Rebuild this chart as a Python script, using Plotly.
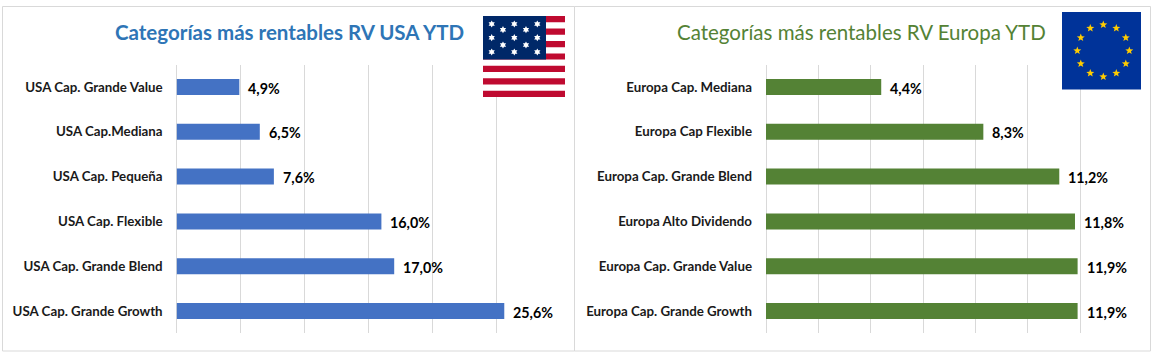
import math
import plotly.graph_objects as go

W, H = 1151, 358
FONT = "Lato, 'Open Sans', sans-serif"

usa_categories = ["USA Cap. Grande Value", "USA Cap.Mediana", "USA Cap. Pequeña",
                  "USA Cap. Flexible", "USA Cap. Grande Blend", "USA Cap. Grande Growth"]
usa_values = [4.9, 6.5, 7.6, 16.0, 17.0, 25.6]
usa_labels = ["4,9%", "6,5%", "7,6%", "16,0%", "17,0%", "25,6%"]

eur_categories = ["Europa Cap. Mediana", "Europa Cap Flexible", "Europa Cap. Grande Blend",
                  "Europa Alto Dividendo", "Europa Cap. Grande Value", "Europa Cap. Grande Growth"]
eur_values = [4.4, 8.3, 11.2, 11.8, 11.9, 11.9]
eur_labels = ["4,4%", "8,3%", "11,2%", "11,8%", "11,9%", "11,9%"]

usa_title = "Categorías más rentables RV USA YTD"
eur_title = "Categorías más rentables RV Europa YTD"


def px(x):
    return x / W


def py(y):
    return 1 - y / H


def rect(x0, y0, x1, y1, fill=None, line=None, layer="above"):
    return dict(type="rect", xref="paper", yref="paper", x0=px(x0), x1=px(x1), y0=py(y0), y1=py(y1),
                fillcolor=fill or "rgba(0,0,0,0)",
                line=dict(color=line or "rgba(0,0,0,0)", width=1 if line else 0), layer=layer)


def star(cx, cy, r, color, points=5, inner=0.42):
    pts = []
    for i in range(points * 2):
        rad = r if i % 2 == 0 else r * inner
        a = -math.pi / 2 + i * math.pi / points
        pts.append((px(cx + rad * math.cos(a)), py(cy + rad * math.sin(a))))
    path = "M" + " L".join(f"{a:.5f},{b:.5f}" for a, b in pts) + " Z"
    return dict(type="path", xref="paper", yref="paper", path=path, fillcolor=color,
                line=dict(width=0), layer="above")


shapes = [rect(2.5, 6.5, 574.5, 351, "white", "#D9D9D9", "below"),
          rect(574.5, 6.5, 1150.5, 351, "white", "#D9D9D9", "below")]

# US flag
fx0, fy0, fx1, fy1 = 483, 16, 565, 97
sh = (fy1 - fy0) / 13
shapes.append(rect(fx0, fy0, fx1, fy1, "white"))
for i in range(0, 13, 2):
    shapes.append(rect(fx0, fy0 + i * sh, fx1, fy0 + (i + 1) * sh, "#BF0A30"))
shapes.append(rect(fx0, fy0, 546, 59.5, "#002868"))
for yy, xs in [(24, (491.7, 514.3, 537.3)), (29.7, (503, 526)), (37.7, (491.7, 514.3, 537.3)),
               (45, (503, 526)), (52, (491.7, 514.3, 537.3))]:
    for xx in xs:
        shapes.append(star(xx, yy, 3.6, "white", points=6, inner=0.55))

# EU flag
shapes.append(rect(1062, 12, 1141, 89.5, "#003399"))
for k in range(12):
    a = k * math.pi / 6
    shapes.append(star(1103.3 + 26 * math.sin(a), 50.7 - 26 * math.cos(a), 4.2, "#FFCC00"))

fig = go.Figure()
fig.add_trace(go.Bar(y=usa_categories, x=usa_values, orientation="h", marker=dict(color="#4472C4", line_width=0),
                     xaxis="x", yaxis="y", showlegend=False, hoverinfo="skip"))
fig.add_trace(go.Bar(y=eur_categories, x=eur_values, orientation="h", marker=dict(color="#548235", line_width=0),
                     xaxis="x2", yaxis="y2", showlegend=False, hoverinfo="skip"))

annotations = []
for cats, vals, labs, xr, yr in [(usa_categories, usa_values, usa_labels, "x", "y"),
                                 (eur_categories, eur_values, eur_labels, "x2", "y2")]:
    for c, v, l in zip(cats, vals, labs):
        annotations.append(dict(x=v, y=c, xref=xr, yref=yr, text=f"<b>{l}</b>", showarrow=False, xanchor="left",
                                xshift=7, yshift=-1, font=dict(family=FONT, size=14.3, color="#000000")))
annotations.append(dict(x=px(289.5), y=py(31.5), xref="paper", yref="paper", text=f"<b>{usa_title}</b>", showarrow=False,
                        xanchor="center", yanchor="middle",
                        font=dict(family=FONT, size=20.5, color="#2E75B6")))
annotations.append(dict(x=px(861.5), y=py(31.5), xref="paper", yref="paper", text=eur_title, showarrow=False,
                        xanchor="center", yanchor="middle",
                        font=dict(family=FONT, size=20.5, color="#548235")))

yd = [1 - 333.4 / H, 1 - 64.6 / H]
tick = dict(family=FONT, size=13.3, color="#1A1A1A")
common_x = dict(showgrid=True, gridcolor="#D9D9D9", gridwidth=1, zeroline=True, zerolinecolor="#D9D9D9",
                zerolinewidth=1, showline=False, showticklabels=False, ticks="")
common_y = dict(type="category", autorange="reversed", showgrid=False, zeroline=False, showline=False,
                ticks="", ticklabelstandoff=13, tickfont=tick)

fig.update_layout(
    width=W, height=H, margin=dict(l=0, r=0, t=0, b=0), paper_bgcolor="white", plot_bgcolor="rgba(0,0,0,0)",
    bargap=0.643, shapes=shapes, annotations=annotations,
    xaxis=dict(domain=[176.6 / W, 560.6 / W], range=[0, 30], dtick=5, anchor="y", **common_x),
    yaxis=dict(domain=yd, anchor="x", categoryorder="array", categoryarray=usa_categories,
               tickvals=usa_categories, ticktext=[f"<b>{c}</b>" for c in usa_categories], **common_y),
    xaxis2=dict(domain=[766 / W, 1132.6 / W], range=[0, 14], dtick=2, anchor="y2", **common_x),
    yaxis2=dict(domain=yd, anchor="x2", categoryorder="array", categoryarray=eur_categories,
                tickvals=eur_categories, ticktext=[f"<b>{c}</b>" for c in eur_categories], **common_y),
)

fig.write_html("out.html", config={"displayModeBar": False},
               post_script="document.body.style.margin='0';document.documentElement.style.overflow='hidden';")
